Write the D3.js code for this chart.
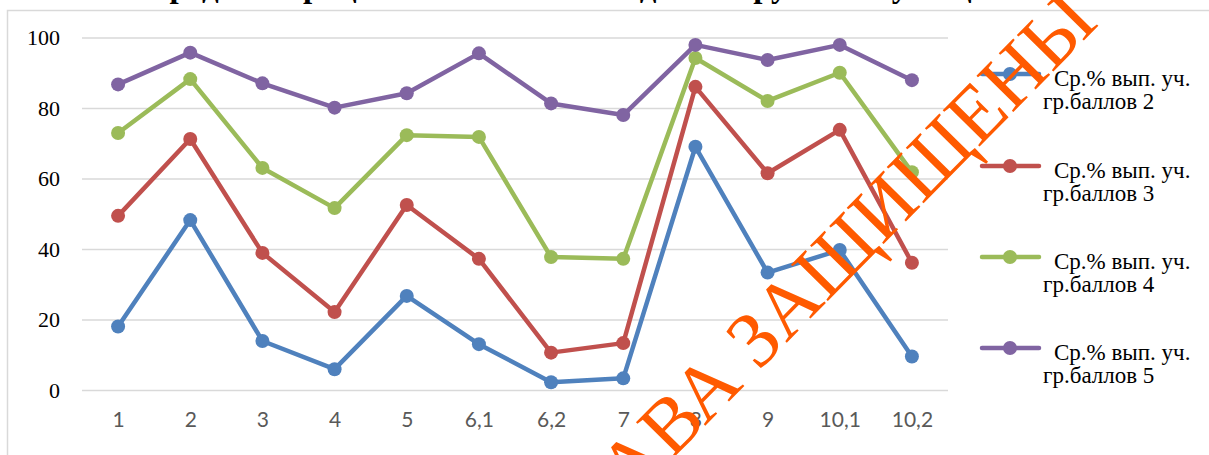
<!DOCTYPE html>
<html><head><meta charset="utf-8">
<script src="https://cdn.jsdelivr.net/npm/d3@7"></script>
<style>html,body{margin:0;padding:0;background:#fff;overflow:hidden}</style>
</head><body>
<svg id="c" width="1209" height="455"></svg>
<script>
const categories = ["1","2","3","4","5","6,1","6,2","7","8","9","10,1","10,2"];
const seriesNames = ["Ср.% вып. уч. гр.баллов 2","Ср.% вып. уч. гр.баллов 3","Ср.% вып. уч. гр.баллов 4","Ср.% вып. уч. гр.баллов 5"];
const g2 = [18.0, 48.2, 13.9, 5.9, 26.7, 13.0, 2.2, 3.3, 69.0, 33.3, 39.7, 9.5];
const g3 = [49.4, 71.2, 38.9, 22.1, 52.5, 37.2, 10.6, 13.3, 86.0, 61.5, 73.8, 36.1];
const g4 = [72.9, 88.2, 63.0, 51.6, 72.3, 71.8, 37.7, 37.2, 94.2, 82.0, 90.0, 61.8];
const g5 = [86.7, 95.7, 87.0, 80.1, 84.2, 95.5, 81.3, 78.0, 97.9, 93.6, 97.9, 87.9];
const yTicks = [0, 20, 40, 60, 80, 100];
const colors = ["#4F81BD", "#C0504D", "#9BBB59", "#8064A2"];
const titleText = "Средний процент выполнения заданий группами учащихся";
const watermark = "ВСЕ ПРАВА ЗАЩИЩЕНЫ";

const series = [g2, g3, g4, g5];
const svg = d3.select("#c");

// chart frame
svg.append("rect").attr("x", 7.5).attr("y", 10.5).attr("width", 1230).attr("height", 460)
  .attr("fill", "none").attr("stroke", "#d9d9d9").attr("stroke-width", 1.5);

// title (clipped at top)
svg.append("text").attr("x", 592).attr("y", -3).attr("text-anchor", "middle")
  .attr("font-family", "Liberation Serif").attr("font-weight", "bold").attr("font-size", 33)
  .attr("fill", "#000").text(titleText);

const x = d3.scalePoint().domain(categories).range([82, 948]).padding(0.5);
const y = d3.scaleLinear().domain([0, 100]).range([390, 37.5]);

// gridlines
const yAxis = d3.axisLeft(y).tickValues(yTicks).tickSize(-(948 - 82)).tickPadding(22);
const ga = svg.append("g").attr("transform", "translate(82,0)").call(yAxis);
ga.select(".domain").remove();
ga.selectAll(".tick line").attr("stroke", "#d9d9d9").attr("stroke-width", 1.5);
ga.selectAll(".tick text").attr("font-family", "Liberation Serif").attr("font-size", 22)
  .attr("fill", "#000").attr("dy", "0.34em");

// x axis labels
const xAxis = d3.axisBottom(x).tickSize(0).tickPadding(22);
const gx = svg.append("g").attr("transform", "translate(0,390)").call(xAxis);
gx.select(".domain").remove();
gx.selectAll(".tick text").attr("font-family", "Lato").attr("font-size", 21).attr("fill", "#595959");

// lines
const line = d3.line().x((d, i) => x(categories[i])).y(d => y(d));
series.forEach((s, k) => {
  svg.append("path").datum(s).attr("d", line).attr("fill", "none")
    .attr("stroke", colors[k]).attr("stroke-width", 4.5).attr("stroke-linejoin", "round");
  svg.append("g").selectAll("circle").data(s).join("circle")
    .attr("cx", (d, i) => x(categories[i])).attr("cy", d => y(d)).attr("r", 7)
    .attr("fill", colors[k]);
});

// legend
const legY = [74, 166, 257, 348];
series.forEach((s, k) => {
  const g = svg.append("g").attr("transform", `translate(0,${legY[k]})`);
  g.append("line").attr("x1", 982).attr("x2", 1039).attr("y1", 0).attr("y2", 0)
    .attr("stroke", colors[k]).attr("stroke-width", 4.5).attr("stroke-linecap", "round");
  g.append("circle").attr("cx", 1010).attr("cy", 0).attr("r", 7).attr("fill", colors[k]);
  const parts = seriesNames[k].split(" гр.");
  g.append("text").attr("x", 1054).attr("y", 12).attr("font-family", "Liberation Serif")
    .attr("font-size", 23).attr("fill", "#000").text(parts[0]);
  g.append("text").attr("x", 1043).attr("y", 35).attr("font-family", "Liberation Serif")
    .attr("font-size", 23).attr("fill", "#000").text("гр." + parts[1]);
});

// watermark
svg.append("text").attr("transform", "translate(1100,24) rotate(-45.5)")
  .attr("text-anchor", "end").attr("font-family", "Liberation Serif").attr("font-size", 79)
  .attr("fill", "#FF5A00").text(watermark);
</script>
</body></html>
